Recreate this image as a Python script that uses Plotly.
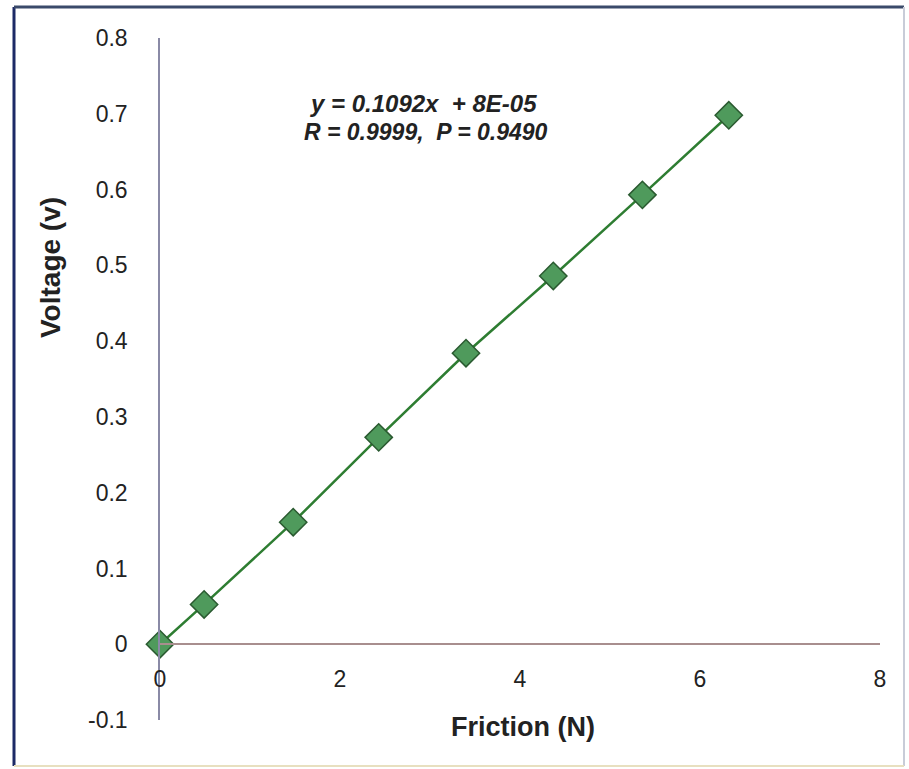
import plotly.graph_objects as go

# Data
friction = [0, 0.49, 1.48, 2.43, 3.40, 4.37, 5.36, 6.32]
voltage = [0, 0.0525, 0.161, 0.273, 0.384, 0.486, 0.593, 0.698]

x_ticks = [0, 2, 4, 6, 8]
y_ticks = [-0.1, 0, 0.1, 0.2, 0.3, 0.4, 0.5, 0.6, 0.7, 0.8]
y_ticklabels = ["-0.1", "0", "0.1", "0.2", "0.3", "0.4", "0.5", "0.6", "0.7", "0.8"]

eq_line1 = "y = 0.1092x  + 8E-05"
eq_line2 = "R = 0.9999,  P = 0.9490"

W, H = 909, 769
ML, MR, MT, MB = 160, 29, 38, 49
plot_h = H - MT - MB
y_min, y_max = -0.1, 0.8
zero_frac = (0 - y_min) / (y_max - y_min)

font = "Liberation Sans, Arial, sans-serif"

fig = go.Figure()
fig.add_trace(go.Scatter(
    x=friction, y=voltage, mode="lines+markers",
    line=dict(color="#2e7d32", width=2.5),
    marker=dict(symbol="diamond", size=21, color="#4f9a5c",
                line=dict(color="#2a5a30", width=1.5)),
    cliponaxis=False, showlegend=False,
))

fig.update_layout(
    width=W, height=H, autosize=False,
    margin=dict(l=ML, r=MR, t=MT, b=MB),
    paper_bgcolor="white", plot_bgcolor="white",
    font=dict(family=font, color="#222222"),
    xaxis=dict(
        range=[0, 8], tickvals=x_ticks, showgrid=False, zeroline=False,
        showline=True, linecolor="#a88e8e", linewidth=1.5,
        anchor="free", position=zero_frac, ticks="",
        ticklabelstandoff=14, tickfont=dict(size=23, family=font, color="#222"),
    ),
    yaxis=dict(
        range=[y_min, y_max], tickvals=y_ticks, ticktext=y_ticklabels,
        showgrid=False, zeroline=False, showline=True,
        linecolor="#8a8aa6", linewidth=1.5, ticks="",
        ticklabelstandoff=26, tickfont=dict(size=23, family=font, color="#222"),
    ),
)

def px_to_paper_x(px):
    return (px - ML) / (W - ML - MR)

def px_to_paper_y(py):
    return (H - MB - py) / plot_h

def add_text(text, px, py, size, angle=0):
    fig.add_annotation(text=text, x=px_to_paper_x(px), y=px_to_paper_y(py),
                       xref="paper", yref="paper", showarrow=False,
                       xanchor="center", yanchor="middle", textangle=angle,
                       font=dict(size=size, family=font, color="#222"))

add_text("<b><i>" + eq_line1 + "</i></b>", 423, 103, 24)
add_text("<b><i>" + eq_line2 + "</i></b>", 426, 132, 23)
add_text("<b>Friction (N)</b>", 523, 727, 27)
add_text("<b>Voltage (v)</b>", 50, 267, 28, -90)

# outer frame
L, T, R, B = 14, 7, 904, 766
fig.add_shape(type="line", xref="paper", yref="paper",
              x0=px_to_paper_x(L), x1=px_to_paper_x(L), y0=px_to_paper_y(T), y1=px_to_paper_y(B),
              line=dict(color="#1c2a66", width=3))
fig.add_shape(type="line", xref="paper", yref="paper",
              x0=px_to_paper_x(L), x1=px_to_paper_x(R), y0=px_to_paper_y(T), y1=px_to_paper_y(T),
              line=dict(color="#3a4a6a", width=3))
fig.add_shape(type="line", xref="paper", yref="paper",
              x0=px_to_paper_x(R), x1=px_to_paper_x(R), y0=px_to_paper_y(T), y1=px_to_paper_y(B),
              line=dict(color="#c8ccd8", width=2))
fig.add_shape(type="line", xref="paper", yref="paper",
              x0=px_to_paper_x(L), x1=px_to_paper_x(R), y0=px_to_paper_y(B), y1=px_to_paper_y(B),
              line=dict(color="#e8e0c0", width=2))

fig.write_html("out.html")
